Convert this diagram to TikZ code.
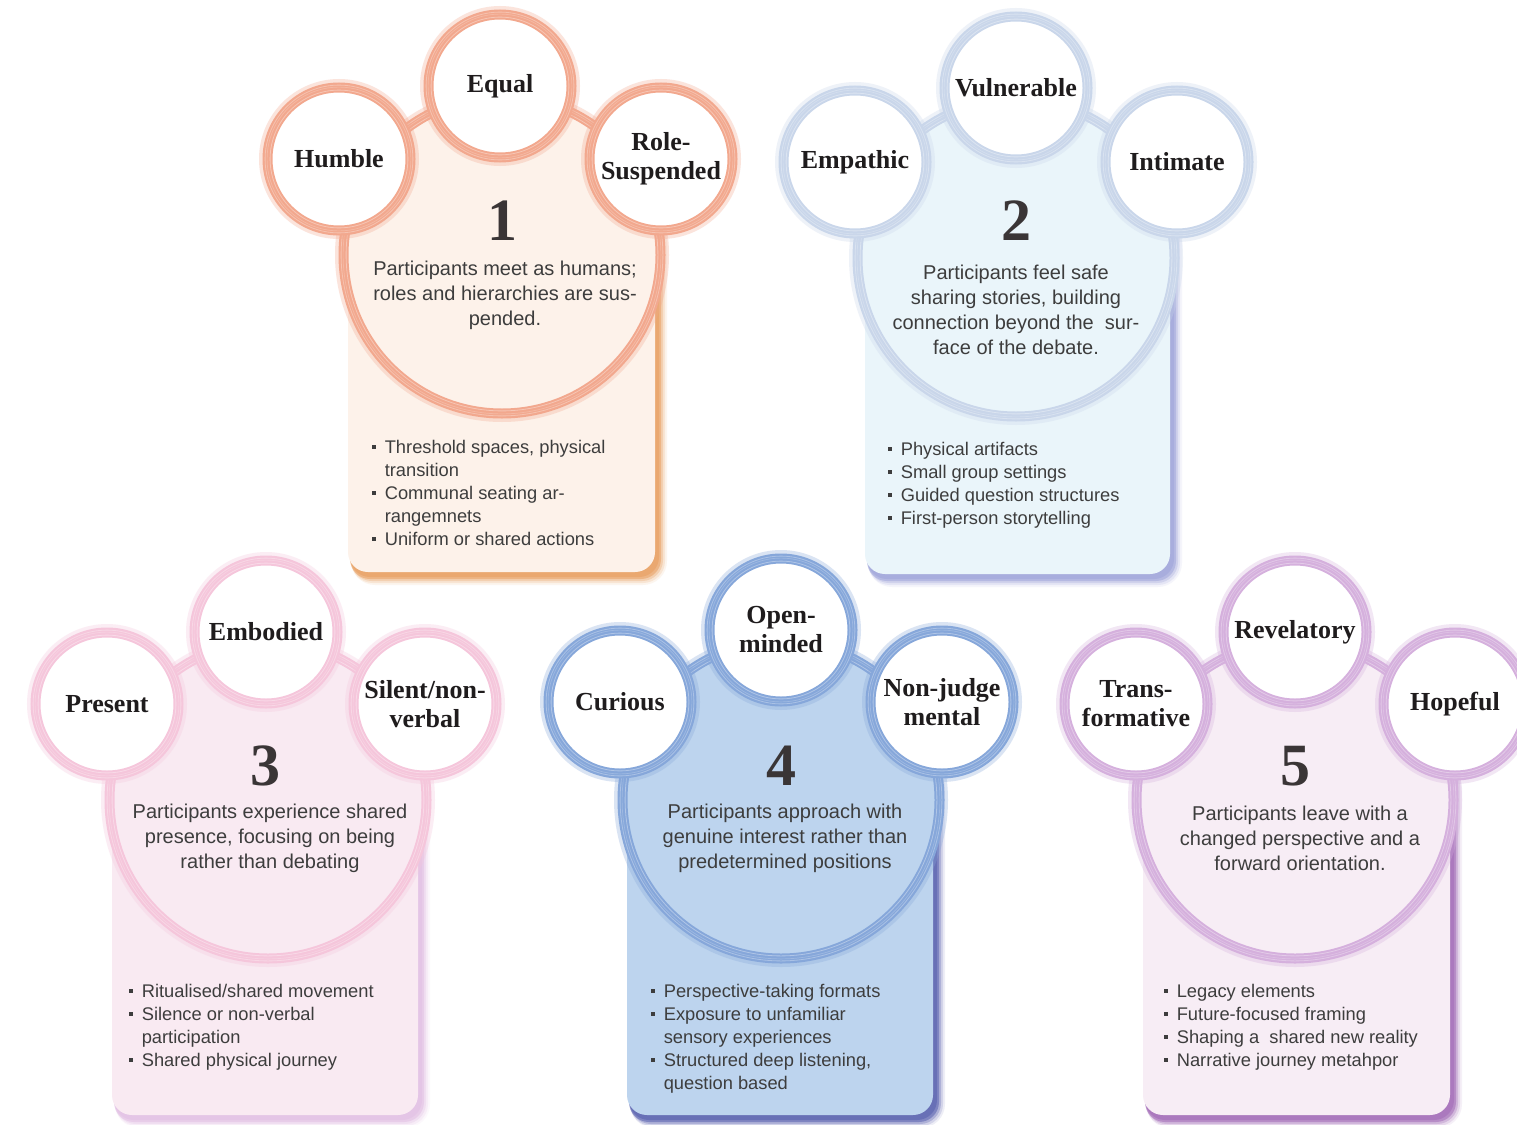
\documentclass[tikz,border=0pt]{standalone}
\usepackage{fontspec}
\setmainfont{Liberation Sans}
\newfontfamily\kwfont{Liberation Serif}
\definecolor{txtc}{HTML}{3D3D3D}
\definecolor{kwc}{HTML}{1F1C1D}
\definecolor{numc}{HTML}{3A3536}
\definecolor{ringA}{HTML}{F2A88E}\definecolor{fillA}{HTML}{FDF2EA}\definecolor{shA}{HTML}{E9A062}
\definecolor{ringB}{HTML}{C9D6EA}\definecolor{fillB}{HTML}{EAF5FA}\definecolor{shB}{HTML}{A0A6DA}
\definecolor{ringC}{HTML}{F5C6DB}\definecolor{fillC}{HTML}{F9EAF2}\definecolor{shC}{HTML}{E2C0E4}
\definecolor{ringD}{HTML}{86A7DA}\definecolor{fillD}{HTML}{BDD4EE}\definecolor{shD}{HTML}{5A62B0}
\definecolor{ringE}{HTML}{D5B0DD}\definecolor{fillE}{HTML}{F7EDF5}\definecolor{shE}{HTML}{A36CB8}
\newcommand\bul{\rule[4.6pt]{3.6pt}{3.6pt}}
% card: x1 y1 x2 y2 fill shadow
\newcommand\mkcard[6]{%
  \fill[#6, opacity=.10, rounded corners=24pt] (#1+3,#2+4) rectangle (#3+12,#4+13);
  \fill[#6, opacity=.18, rounded corners=22pt] (#1+3,#2+4) rectangle (#3+10,#4+11);
  \fill[#6, opacity=.30, rounded corners=21pt] (#1+3,#2+3) rectangle (#3+8,#4+9);
  \fill[#6, opacity=.55, rounded corners=20pt] (#1+2,#2+2) rectangle (#3+6,#4+7);
  \fill[#6, opacity=.6, rounded corners=20pt] (#1+2,#2+2) rectangle (#3+4,#4+5);
  \fill[#5, rounded corners=20pt] (#1,#2) rectangle (#3,#4);}
\newcommand\ringtex[2]{%
  \draw[white, opacity=.35, line width=.8pt] (#1.center) circle[radius={(#2-2.6)*1pt}];
  \draw[white, opacity=.2, line width=.7pt] (#1.center) circle[radius={(#2+0.4)*1pt}];
  \draw[white, opacity=.3, line width=.8pt] (#1.center) circle[radius={(#2+2.4)*1pt}];}
\begin{document}
\begin{tikzpicture}[x=1pt,y=-1pt,
  kwring/.style={circle, inner sep=0pt, minimum size=143pt, fill=white, draw=#1, line width=10pt,
    preaction={draw=#1, draw opacity=.3, line width=17pt},
    font=\kwfont\bfseries\fontsize{26}{29}\selectfont, text=kwc, align=center},
  bigring/.style 2 args={circle, inner sep=0pt, minimum size=317pt, fill=#2, draw=#1, line width=10pt,
    preaction={draw=#1, draw opacity=.3, line width=17pt}},
  numtxt/.style={inner sep=0pt, font=\kwfont\bfseries\fontsize{60}{60}\selectfont, text=numc},
  desctxt/.style={inner sep=0pt, align=center, font=\fontsize{20}{25}\selectfont, text=txtc},
  listtxt/.style={inner sep=0pt, anchor=north west, font=\fontsize{18.3}{23}\selectfont, text=txtc}]
\useasboundingbox (0,0) rectangle (1517,1124);
\fill[white] (0,0) rectangle (1517,1124);

% ---------------- Card 1 ----------------
\mkcard{348}{215}{655}{572}{fillA}{shA}
\node[bigring={ringA}{fillA}] (b1) at (502,255) {};
\ringtex{b1}{158.5}
\node[kwring=ringA] (h1) at (339,159) {Humble};
\node[kwring=ringA] (e1) at (500,86) {Equal};
\node[kwring=ringA] (r1) at (661,159) {Role-\\Suspended};
\ringtex{h1}{71.5}\ringtex{e1}{71.5}\ringtex{r1}{71.5}
\node[numtxt] (n1) at (502,221) {1};
\node[desctxt] (d1) at (505,295) {Participants meet as humans;\\roles and hierarchies are sus-\\pended.};
\node[listtxt] (l1) at (372,437) {\begin{tabular}{@{}l@{\hspace{9pt}}l@{}}
\bul & Threshold spaces, physical\\ & transition\\ \bul & Communal seating ar-\\ & rangemnets\\ \bul & Uniform or shared actions\end{tabular}};

% ---------------- Card 2 ----------------
\mkcard{865}{215}{1170}{574}{fillB}{shB}
\node[bigring={ringB}{fillB}] (b2) at (1016,258) {};
\ringtex{b2}{158.5}
\node[kwring=ringB] (h2) at (855,162) {Empathic};
\node[kwring=ringB] (e2) at (1016,88) {Vulnerable};
\node[kwring=ringB] (r2) at (1177,162) {Intimate};
\ringtex{h2}{71.5}\ringtex{e2}{71.5}\ringtex{r2}{71.5}
\node[numtxt] (n2) at (1016,221) {2};
\node[desctxt] (d2) at (1016,309.5) {Participants feel safe\\sharing stories, building\\connection beyond the \ sur-\\face of the debate.};
\node[listtxt] (l2) at (888,439) {\begin{tabular}{@{}l@{\hspace{9pt}}l@{}}
\bul & Physical artifacts\\ \bul & Small group settings\\ \bul & Guided question structures\\ \bul & First-person storytelling\end{tabular}};

% ---------------- Card 3 ----------------
\mkcard{112}{760}{418}{1115}{fillC}{shC}
\node[bigring={ringC}{fillC}] (b3) at (268,800) {};
\ringtex{b3}{158.5}
\node[kwring=ringC] (h3) at (107,704) {Present};
\node[kwring=ringC] (e3) at (266,632) {Embodied};
\node[kwring=ringC] (r3) at (425,704) {Silent/non-\\verbal};
\ringtex{h3}{71.5}\ringtex{e3}{71.5}\ringtex{r3}{71.5}
\node[numtxt] (n3) at (265,766) {3};
\node[desctxt] (d3) at (270,838.5) {Participants experience shared\\presence, focusing on being\\rather than debating};
\node[listtxt] (l3) at (129,981) {\begin{tabular}{@{}l@{\hspace{9pt}}l@{}}
\bul & Ritualised/shared movement\\ \bul & Silence or non-verbal\\ & participation\\ \bul & Shared physical journey\end{tabular}};

% ---------------- Card 4 ----------------
\mkcard{627}{760}{933}{1115}{fillD}{shD}
\node[bigring={ringD}{fillD}] (b4) at (781,800) {};
\ringtex{b4}{158.5}
\node[kwring=ringD] (h4) at (620,702) {Curious};
\node[kwring=ringD] (e4) at (781,630) {Open-\\minded};
\node[kwring=ringD] (r4) at (942,702) {Non-judge\\mental};
\ringtex{h4}{71.5}\ringtex{e4}{71.5}\ringtex{r4}{71.5}
\node[numtxt] (n4) at (781,766) {4};
\node[desctxt] (d4) at (785,838.5) {Participants approach with\\genuine interest rather than\\predetermined positions};
\node[listtxt] (l4) at (651,981) {\begin{tabular}{@{}l@{\hspace{9pt}}l@{}}
\bul & Perspective-taking formats\\ \bul & Exposure to unfamiliar\\ & sensory experiences\\ \bul & Structured deep listening,\\ & question based\end{tabular}};

% ---------------- Card 5 ----------------
\mkcard{1143}{760}{1450}{1115}{fillE}{shE}
\node[bigring={ringE}{fillE}] (b5) at (1295,800) {};
\ringtex{b5}{158.5}
\node[kwring=ringE] (h5) at (1136,704) {Trans-\\formative};
\node[kwring=ringE] (e5) at (1295,632) {Revelatory};
\node[kwring=ringE] (r5) at (1455,704) {Hopeful};
\ringtex{h5}{71.5}\ringtex{e5}{71.5}\ringtex{r5}{71.5}
\node[numtxt] (n5) at (1295,766) {5};
\node[desctxt] (d5) at (1300,838.5) {Participants leave with a\\changed perspective and a\\forward orientation.};
\node[listtxt] (l5) at (1164,981) {\begin{tabular}{@{}l@{\hspace{9pt}}l@{}}
\bul & Legacy elements\\ \bul & Future-focused framing\\ \bul & Shaping a \ shared new reality\\ \bul & Narrative journey metahpor\end{tabular}};
\end{tikzpicture}
\end{document}
